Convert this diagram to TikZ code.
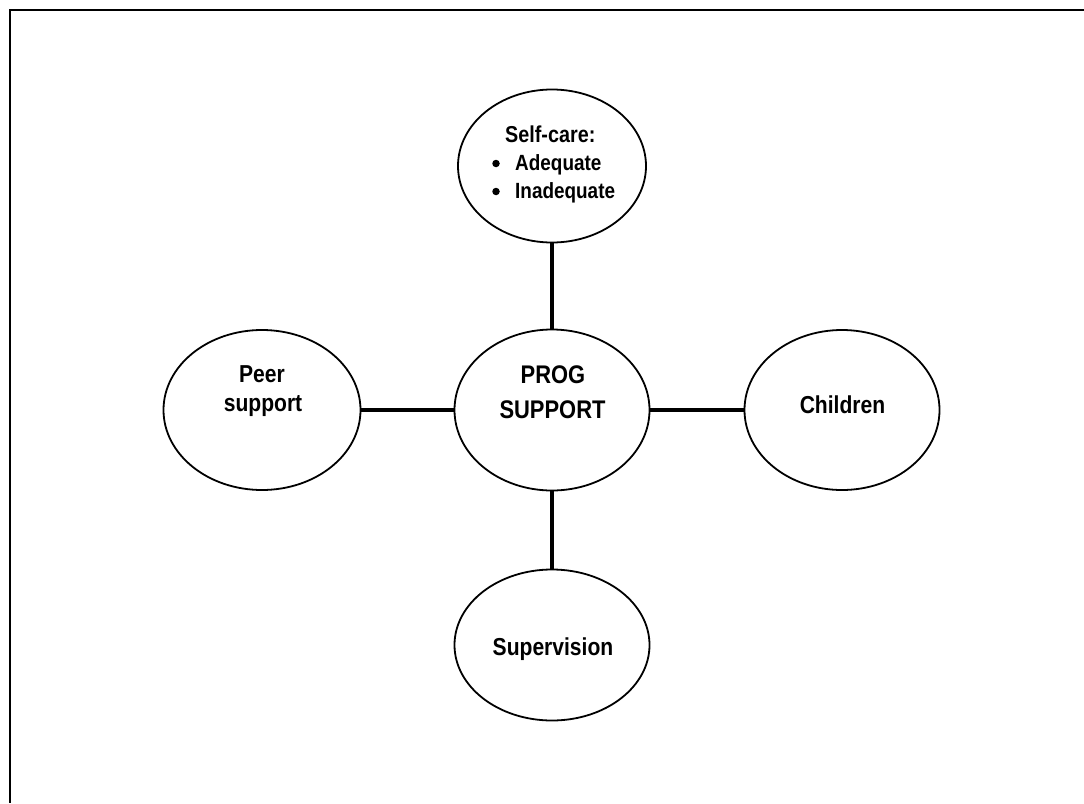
\documentclass[tikz,border=0pt]{standalone}
\usepackage{fontspec}
\usetikzlibrary{shapes.geometric}
\newfontfamily\labfont[FakeStretch=0.86]{Liberation Sans}
\begin{document}
\begin{tikzpicture}[x=1pt,y=-1pt,
  bubble/.style={draw, ellipse, line width=1.8pt, inner sep=0pt,
                 minimum width=#1},
  link/.style={line width=4.5pt},
  frameline/.style={line width=2.2pt},
  dot/.style={circle, fill, inner sep=0pt, minimum size=7.5pt},
  lab/.style={inner sep=0pt, anchor=base, font=\labfont\bfseries\fontsize{24.5}{28}\selectfont},
  sublab/.style={inner sep=0pt, anchor=base west, font=\labfont\bfseries\fontsize{22}{28}\selectfont}]
\useasboundingbox (0,0) rectangle (1084,803);

% page frame (top and left edges)
\coordinate (ftl) at (10,10);
\coordinate (ftr) at (1084,10);
\coordinate (fbl) at (10,803);
\draw[frameline] (ftr) -- (ftl) -- (fbl);

% bubbles
\node[bubble=188pt, minimum height=153pt] (self) at (552,166) {};
\node[bubble=195pt, minimum height=161pt] (prog) at (552,410) {};
\node[bubble=197pt, minimum height=160pt] (peer) at (262,410) {};
\node[bubble=195pt, minimum height=160pt] (child) at (842,410) {};
\node[bubble=195pt, minimum height=151pt] (sup) at (552,645) {};

% spokes
\draw[link] (self) -- (prog);
\draw[link] (prog) -- (sup);
\draw[link] (peer) -- (prog);
\draw[link] (prog) -- (child);

% labels
\node[sublab, font=\labfont\bfseries\fontsize{23}{28}\selectfont] (selfhead) at (505,142) {Self-care:};
\node[dot] (b1) at (496,163.5) {};
\node[sublab] (adeq) at (515,170) {Adequate};
\node[dot] (b2) at (496,191.5) {};
\node[sublab] (inadeq) at (515,198) {Inadequate};

\node[lab, font=\labfont\bfseries\fontsize{25.5}{28}\selectfont] (prog1) at (553,383) {PROG};
\node[lab, font=\labfont\bfseries\fontsize{25.5}{28}\selectfont] (prog2) at (552.5,418) {SUPPORT};

\node[lab] (peer1) at (262,382) {Peer};
\node[lab] (peer2) at (263,411) {support};

\node[lab] (childlab) at (842.5,413) {Children};
\node[lab] (suplab) at (553,655) {Supervision};
\end{tikzpicture}
\end{document}
